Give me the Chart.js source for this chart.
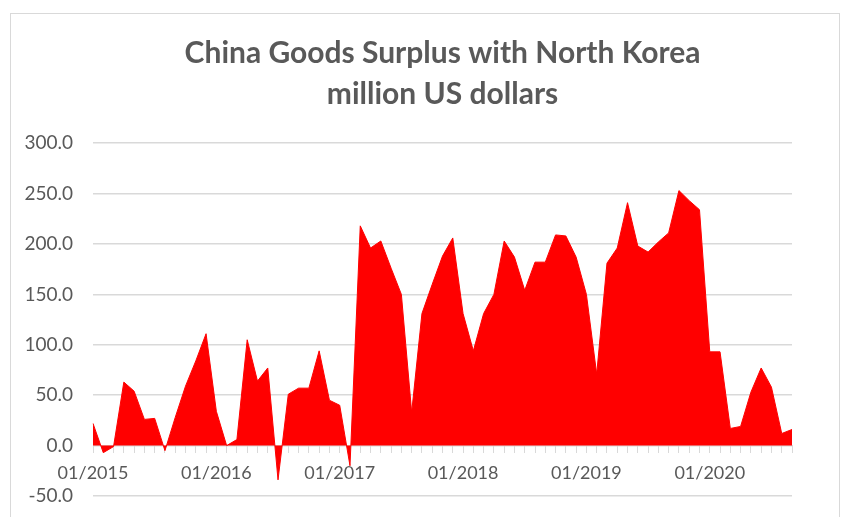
<!DOCTYPE html>
<html>
<head>
<meta charset="utf-8">
<script src="https://cdn.jsdelivr.net/npm/chart.js@4/dist/chart.umd.min.js"></script>
<style>
  body { margin: 0; background: #fff; overflow: hidden; }
  #frame { position: absolute; left: 10px; top: 13px; width: 828px; height: 600px; border: 1px solid #d9d9d9; }
  #myChart { position: absolute; left: 0; top: 0; }
</style>
</head>
<body>
<div id="frame"></div>
<canvas id="myChart" width="844" height="517"></canvas>
<script>
// monthly, 01/2015 .. 09/2020
const years = [2015, 2016, 2017, 2018, 2019, 2020];
const lastMonth = 9;
const surplus = [
  22, -7, -1, 63, 54, 26, 27, -5, 28, 59, 84, 111,
  34, 0, 6, 105, 64, 77, -34, 51, 57, 57, 94, 45,
  40, -20, 218, 196, 203, 176, 150, 33, 131, 160, 188, 206,
  131, 94, 131, 150, 203, 187, 154, 182, 182, 209, 208, 187,
  150, 71, 181, 196, 241, 198, 192, 202, 211, 253, 243, 234,
  93, 93, 17, 19, 53, 77, 58, 12, 16
];

const months = [];
years.forEach(y => {
  for (let m = 1; m <= 12; m++) {
    if (y === 2020 && m > lastMonth) break;
    months.push(String(m).padStart(2, '0') + '/' + y);
  }
});

const ctx = document.getElementById('myChart').getContext('2d');
const myChart = new Chart(ctx, {
  type: 'line',
  data: {
    labels: months,
    datasets: [{
      data: surplus,
      borderColor: '#ff0000',
      backgroundColor: '#ff0000',
      borderWidth: 1,
      pointRadius: 0,
      tension: 0,
      fill: 'origin'
    }]
  },
  options: {
    responsive: false,
    animation: false,
    layout: { padding: { left: 10, right: 52, top: 0, bottom: 21 } },
    plugins: {
      legend: { display: false },
      tooltip: { enabled: false },
      title: {
        display: true,
        fullSize: false,
        text: ['China Goods Surplus with North Korea', 'million US dollars'],
        color: '#595959',
        font: { family: 'Lato', size: 30, weight: 'bold', lineHeight: 1.37 },
        padding: { top: 33, bottom: 28 }
      }
    },
    scales: {
      x: {
        position: { y: 0 },
        offset: false,
        grid: { drawOnChartArea: false, drawTicks: true, tickLength: 7, color: '#d9d9d9' },
        border: { color: '#d9d9d9' },
        ticks: {
          autoSkip: false,
          maxRotation: 0,
          padding: 10,
          color: '#595959',
          font: { family: 'Lato', size: 18 },
          callback: (v, i) => i % 12 === 0 ? months[i] : ''
        }
      },
      y: {
        min: -50,
        max: 300,
        afterFit: s => { s.width = 83; s.paddingBottom = 0; s.paddingTop = 0; },
        grid: { color: '#d9d9d9', drawTicks: false, lineWidth: 1.5 },
        border: { display: false },
        ticks: {
          stepSize: 50,
          padding: 20,
          color: '#595959',
          font: { family: 'Lato', size: 19 },
          callback: v => v.toFixed(1)
        }
      }
    }
  }
});
</script>
</body>
</html>
